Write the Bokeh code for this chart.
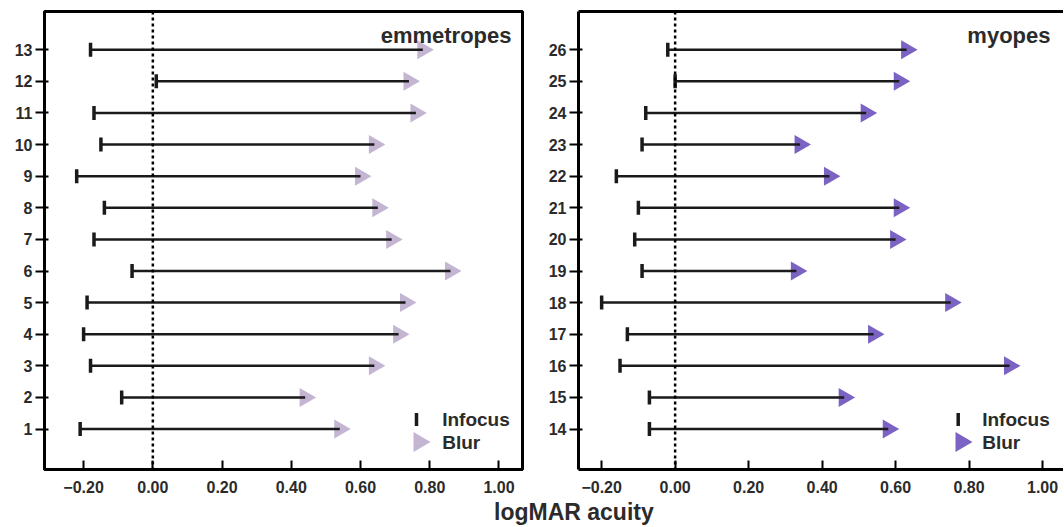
import numpy as np
from bokeh.plotting import figure
from bokeh.models import (FixedTicker, Span, Label, LinearAxis, PolyAnnotation,
                          Div, ColumnDataSource, Range1d)
from bokeh.layouts import row, column
from bokeh.embed import file_html
from bokeh.resources import INLINE

# ---------------- data ----------------
emm_subjects = list(range(1, 14))
emm_infocus = [-0.21, -0.09, -0.18, -0.20, -0.19, -0.06, -0.17, -0.14, -0.22, -0.15, -0.17, 0.01, -0.18]
emm_blur = [0.54, 0.44, 0.64, 0.71, 0.73, 0.86, 0.69, 0.65, 0.60, 0.64, 0.76, 0.74, 0.78]

myo_subjects = list(range(14, 27))
myo_infocus = [-0.07, -0.07, -0.15, -0.13, -0.20, -0.09, -0.11, -0.10, -0.16, -0.09, -0.08, 0.00, -0.02]
myo_blur = [0.58, 0.46, 0.91, 0.54, 0.75, 0.33, 0.60, 0.61, 0.42, 0.34, 0.52, 0.61, 0.63]

x_ticks = [-0.2, 0.0, 0.2, 0.4, 0.6, 0.8, 1.0]
x_tick_labels = ["\u22120.20", "0.00", "0.20", "0.40", "0.60", "0.80", "1.00"]

panel_titles = ["emmetropes", "myopes"]
legend_labels = ["Infocus", "Blur"]
x_axis_title = "logMAR acuity"

# ---------------- style ----------------
FONT = "Liberation Sans"
TXT = "#2b2b2b"
EMM_COLOR = "#c4b5d2"
MYO_COLOR = "#7b63c4"
INK = "#1a1a1a"
FIG_H = 501


def make_panel(subjects, infocus, blur, color, xr, yr, title, width, borders,
               full_frame, title_x, leg_x):
    bl, br, bt, bb = borders
    p = figure(width=width, height=FIG_H, x_range=Range1d(*xr), y_range=Range1d(*yr),
               output_backend="svg", toolbar_location=None, title=None,
               min_border_left=bl, min_border_right=br, min_border_top=bt,
               min_border_bottom=bb)
    p.xgrid.visible = False
    p.ygrid.visible = False
    p.background_fill_color = "white"
    p.border_fill_color = "white"

    src = ColumnDataSource(dict(subject=subjects, infocus=infocus, blur=blur))

    p.add_layout(Span(location=0, dimension="height", line_color="black",
                      line_dash="3 3", line_width=2.5))

    p.scatter("blur", "subject", source=src, marker="triangle",
              angle=-np.pi / 2, size=19, fill_color=color, line_color=None)
    p.segment(x0="infocus", y0="subject", x1="blur", y1="subject", source=src,
              line_color=INK, line_width=2.5)
    p.rect(x="infocus", y="subject", width=3.5, height=14, width_units="screen",
           height_units="screen", source=src, fill_color=INK, line_color=None)

    # axes
    xa = p.below[0]
    xa.ticker = FixedTicker(ticks=x_ticks)
    xa.major_label_overrides = {t: l for t, l in zip(x_ticks, x_tick_labels)}
    xa.major_tick_in = 9
    xa.major_tick_out = 0
    xa.major_tick_line_width = 2
    xa.minor_tick_line_color = None
    xa.axis_line_width = 3
    xa.major_label_standoff = 11
    ya = p.left[0]
    ya.ticker = FixedTicker(ticks=subjects)
    ya.major_tick_in = 4
    ya.major_tick_out = 9
    ya.major_tick_line_width = 2
    ya.minor_tick_line_color = None
    ya.axis_line_width = 3
    ya.major_label_standoff = 3
    for ax in (xa, ya):
        ax.major_label_text_font = FONT
        ax.major_label_text_font_style = "bold"
        ax.major_label_text_font_size = "16px"
        ax.major_label_text_color = TXT

    if full_frame:
        p.outline_line_color = "black"
        p.outline_line_width = 3
    else:
        p.outline_line_color = None
        top = LinearAxis(ticker=FixedTicker(ticks=[]), axis_line_width=3,
                         axis_line_color="black", major_tick_in=0, major_tick_out=0,
                         minor_tick_in=0, minor_tick_out=0, major_label_standoff=0,
                         major_label_text_font_size="0px")
        p.add_layout(top, "above")

    p.add_layout(Label(x=title_x, y=434, x_units="screen", y_units="screen",
                       text=title, text_align="right", text_baseline="alphabetic",
                       text_font=FONT, text_font_style="bold", text_font_size="22px",
                       text_color=TXT))

    # legend (screen units, relative to frame bottom-left)
    bx, tx, lx = leg_x
    p.add_layout(PolyAnnotation(xs=[bx - 1.75, bx + 1.75, bx + 1.75, bx - 1.75],
                                ys=[43.5, 43.5, 56.5, 56.5],
                                xs_units="screen", ys_units="screen",
                                fill_color=INK, fill_alpha=1, line_color=None))
    p.add_layout(PolyAnnotation(xs=[tx, tx + 17, tx], ys=[17.5, 27.5, 37.5],
                                xs_units="screen", ys_units="screen",
                                fill_color=color, fill_alpha=1, line_color=None))
    for lab, yy in zip(legend_labels, (50.5, 27.5)):
        p.add_layout(Label(x=lx, y=yy, x_units="screen", y_units="screen",
                           text=lab, text_align="left", text_baseline="middle",
                           text_font=FONT, text_font_style="bold",
                           text_font_size="19px", text_color=TXT))
    return p


p1 = make_panel(emm_subjects, emm_infocus, emm_blur, EMM_COLOR,
                (-0.313, 1.068), (-0.28, 14.21), panel_titles[0], 540,
                (44, 18, 11, 32), True, 467, (372, 369, 397.7))
p2 = make_panel(myo_subjects, myo_infocus, myo_blur, MYO_COLOR,
                (-0.263, 1.057), (12.72, 27.21), panel_titles[1], 523,
                (38, 0, 11, 32), False, 472, (379.7, 377, 403.7))

label_div = Div(
    text=('<div style="position:relative;top:-4px;left:489px;white-space:nowrap;'
          'font-family:\'Liberation Sans\';font-weight:bold;font-size:23px;'
          'line-height:21px;color:#2b2b2b;">' + x_axis_title + '</div>'),
    width=1063, height=25)

layout = column(row(p1, p2), label_div)

open("out.html", "w").write(file_html(layout, INLINE))
